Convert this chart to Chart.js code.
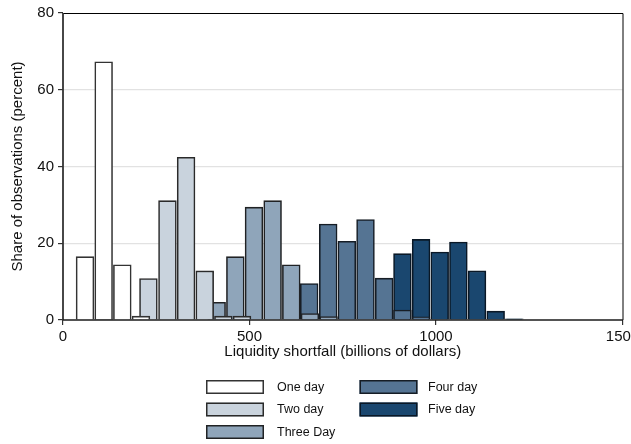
<!DOCTYPE html>
<html>
<head>
<meta charset="utf-8">
<script src="https://cdn.jsdelivr.net/npm/chart.js@4.4.1/dist/chart.umd.min.js"></script>
<style>
  html, body { margin: 0; padding: 0; background: #fff; overflow: hidden; }
</style>
</head>
<body>
<canvas id="histChart" width="631" height="444"></canvas>
<script>
/* bin centres (billions of dollars) and shares (percent) */
const oneDayX = [59, 109, 159, 209];
const oneDayPct = [16.5, 67.3, 14.4, 1.0];
const twoDayX = [229, 280, 330, 380, 430, 480];
const twoDayPct = [10.8, 31.1, 42.4, 12.8, 1.0, 1.0];
const threeDayX = [412, 462, 512, 562, 612, 662, 712];
const threeDayPct = [4.6, 16.5, 29.4, 31.1, 14.4, 1.7, 0.9];
const fourDayX = [660, 711, 761, 811, 861, 910, 960];
const fourDayPct = [9.5, 25.0, 20.5, 26.2, 10.9, 2.6, 0.8];
const fiveDayX = [910, 960, 1010, 1060, 1110, 1160, 1210];
const fiveDayPct = [17.3, 21.0, 17.7, 20.3, 12.8, 2.3, 0.3];

const seriesNames = ['One day', 'Two day', 'Three Day', 'Four day', 'Five day'];
const xTicks = [0, 500, 1000, 1500];
const yTicks = [0, 20, 40, 60, 80];

const FONT = "'Liberation Sans', Arial, Helvetica, sans-serif";

/* ── plot frame: drawn after the bars so the base line stays dark ── */
const framePlugin = {
  id: 'frame',
  afterDatasetsDraw(chart) {
    const { ctx, chartArea: a } = chart;
    ctx.save();
    ctx.strokeStyle = '#000';
    ctx.lineWidth = 1;
    ctx.beginPath();
    ctx.moveTo(a.left, a.top + 0.5);
    ctx.lineTo(a.right + 0.5, a.top + 0.5);
    ctx.lineTo(a.right + 0.5, a.bottom);
    ctx.stroke();

    ctx.strokeStyle = '#333';
    ctx.lineWidth = 1.8;
    ctx.beginPath();
    ctx.moveTo(a.left, a.top);
    ctx.lineTo(a.left, a.bottom);
    ctx.stroke();

    ctx.strokeStyle = '#1a1a1a';
    ctx.lineWidth = 1.6;
    ctx.beginPath();
    ctx.moveTo(a.left, a.bottom);
    ctx.lineTo(a.right + 0.5, a.bottom);
    ctx.stroke();
    ctx.restore();
  },
};

/* ── two-column legend under the axis title ── */
const boxLegendPlugin = {
  id: 'boxLegend',
  afterDraw(chart) {
    const { ctx } = chart;
    // column 1: One/Two/Three, column 2: Four/Five
    const slots = [
      { bx: 206, by: 380, tx: 277 },
      { bx: 206, by: 402.5, tx: 277 },
      { bx: 206, by: 425, tx: 277 },
      { bx: 359.5, by: 380, tx: 428 },
      { bx: 359.5, by: 402.5, tx: 428 },
    ];
    ctx.save();
    ctx.font = `12.5px ${FONT}`;
    ctx.textBaseline = 'middle';
    ctx.textAlign = 'left';
    chart.data.datasets.forEach((ds, i) => {
      const s = slots[i];
      if (!s) return;
      ctx.fillStyle = ds.backgroundColor;
      ctx.fillRect(s.bx, s.by, 58, 14);
      ctx.strokeStyle = ds.borderColor;
      ctx.lineWidth = 1.5;
      ctx.strokeRect(s.bx + 0.75, s.by + 0.75, 56.5, 12.5);
      ctx.fillStyle = '#111';
      ctx.fillText(ds.label, s.tx, s.by + 7.5);
    });
    ctx.restore();
  },
};

Chart.register(framePlugin, boxLegendPlugin);

function histDataset(label, xs, ys, fill, edge) {
  return {
    label,
    data: xs.map((x, i) => ({ x, y: ys[i] })),
    backgroundColor: fill,
    borderColor: edge,
    borderWidth: 1.6,
    barThickness: 17.8,
    grouped: false,
  };
}

const chart = new Chart(document.getElementById('histChart'), {
  type: 'bar',
  data: {
    datasets: [
      histDataset(seriesNames[0], oneDayX, oneDayPct, '#ffffff', '#333333'),
      histDataset(seriesNames[1], twoDayX, twoDayPct, '#c9d3dd', '#2a2a2a'),
      histDataset(seriesNames[2], threeDayX, threeDayPct, '#8fa5ba', '#202224'),
      histDataset(seriesNames[3], fourDayX, fourDayPct, '#557493', '#161d25'),
      histDataset(seriesNames[4], fiveDayX, fiveDayPct, '#1a476f', '#0a1826'),
    ],
  },
  options: {
    responsive: false,
    animation: false,
    devicePixelRatio: 1,
    layout: { padding: { top: 13, right: 8.5, bottom: 83, left: 0 } },
    plugins: {
      legend: { display: false },
      tooltip: { enabled: false },
    },
    scales: {
      x: {
        type: 'linear',
        min: 0,
        max: 1500,
        offset: false,
        afterBuildTicks(scale) {
          scale.ticks = xTicks.map((v) => ({ value: v }));
        },
        ticks: {
          color: '#111',
          font: { family: FONT, size: 15 },
          padding: 3,
          maxRotation: 0,
          autoSkip: false,
          callback: (v) => String(v),
        },
        grid: { offset: false, drawOnChartArea: false, tickLength: 5, tickColor: '#333', lineWidth: 1.2 },
        border: { display: false },
        title: {
          display: true,
          text: 'Liquidity shortfall (billions of dollars)',
          color: '#111',
          font: { family: FONT, size: 15 },
          padding: 0,
        },
        afterFit(scale) {
          scale.height = 41;
          scale.paddingLeft = 0;
          scale.paddingRight = 0;
        },
      },
      y: {
        min: 0,
        max: 80,
        afterBuildTicks(scale) {
          scale.ticks = yTicks.map((v) => ({ value: v }));
        },
        ticks: { color: '#111', font: { family: FONT, size: 15 }, padding: 4, callback: (v) => String(v) },
        grid: {
          color: (c) => (c.tick && (c.tick.value === 0 || c.tick.value === 80) ? 'rgba(0,0,0,0)' : '#e2e2e2'),
          lineWidth: 1.2,
          tickLength: 5,
          tickColor: '#333',
        },
        border: { display: false },
        title: {
          display: true,
          text: 'Share of observations (percent)',
          color: '#111',
          font: { family: FONT, size: 15 },
          padding: { top: 9, bottom: 0 },
        },
        afterFit(scale) {
          scale.width = 63;
          scale.paddingTop = 0;
          scale.paddingBottom = 0;
        },
      },
    },
  },
});
</script>
</body>
</html>
